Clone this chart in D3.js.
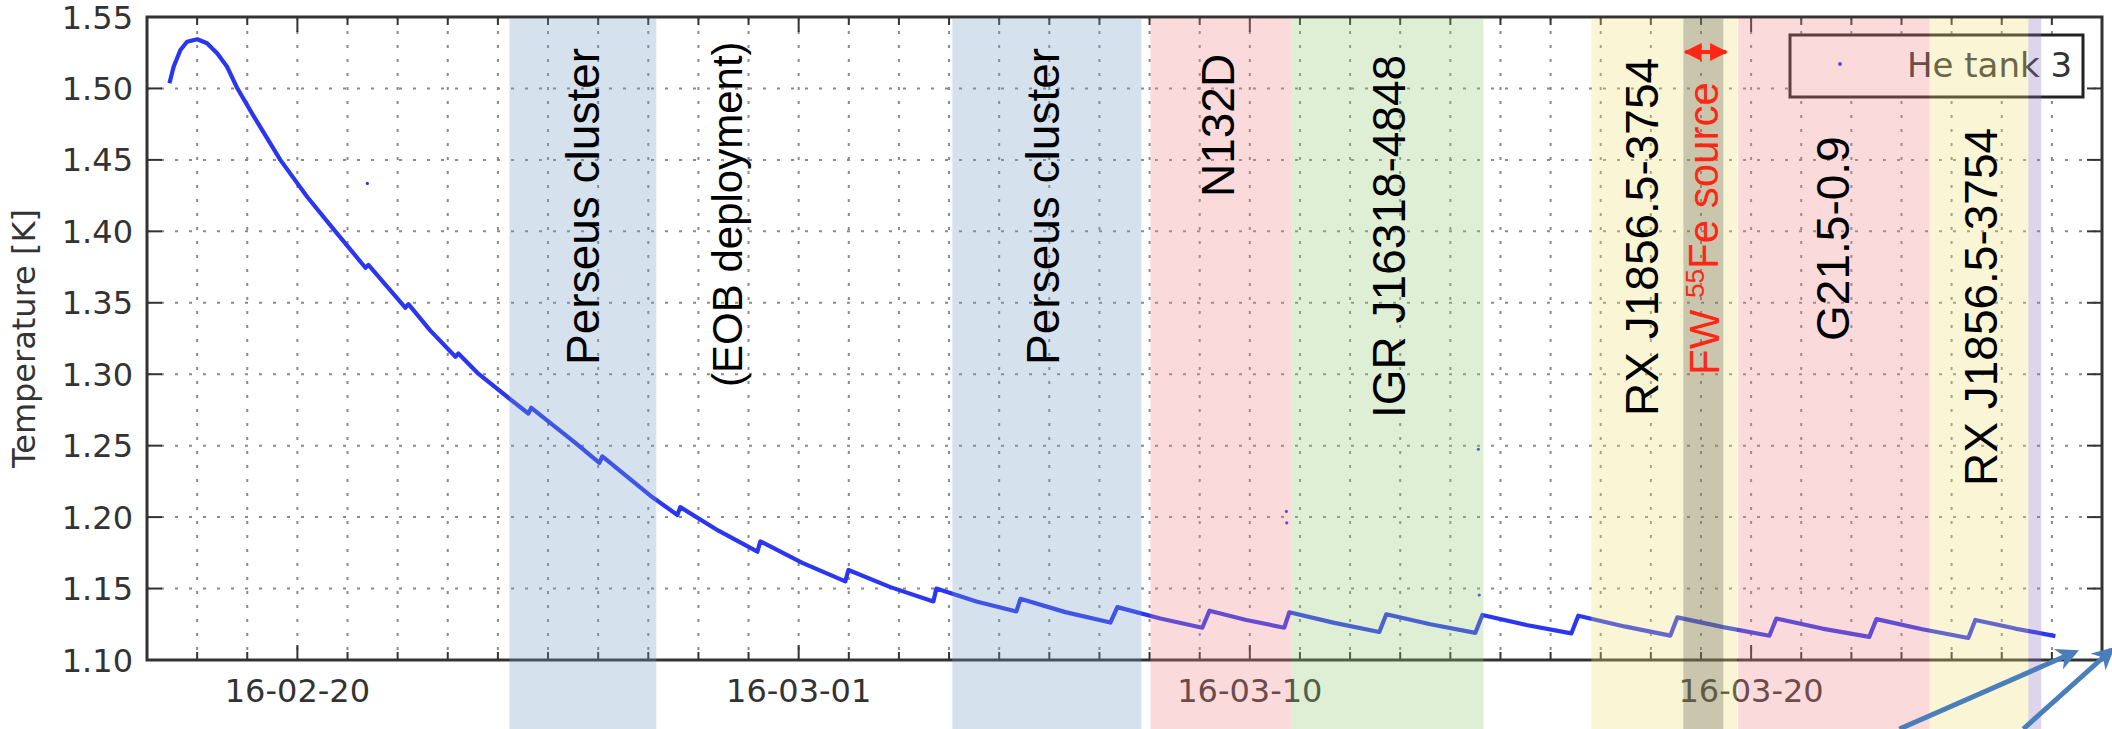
<!DOCTYPE html>
<html lang="en">
<head>
<meta charset="UTF-8">
<title>He tank 3 temperature</title>
<script src="https://d3js.org/d3.v7.min.js"></script>
<style>
  body { margin: 0; background: #fff; }
  svg { display: block; }
  .tick-label { font-family: "DejaVu Sans", sans-serif; font-size: 32px; fill: #333; }
  .band-label { font-family: "Liberation Sans", Arial, sans-serif; }
</style>
</head>
<body>
<script>
// He tank 3 temperature (sawtooth = refills)
const times = [
  "2016-02-17T10:45", "2016-02-17T12:45", "2016-02-17T16:00", "2016-02-17T19:10",
  "2016-02-18T00:05", "2016-02-18T04:45", "2016-02-18T09:35", "2016-02-18T14:20",
  "2016-02-18T19:15", "2016-02-19T02:55",
  "2016-02-19T15:50", "2016-02-20T04:45", "2016-02-20T18:10", "2016-02-21T08:35",
  "2016-02-21T10:00", "2016-02-22T03:45", "2016-02-22T05:10", "2016-02-22T15:40",
  "2016-02-23T03:40", "2016-02-23T05:05", "2016-02-23T14:10", "2016-02-24T05:30",
  "2016-02-24T14:35", "2016-02-24T16:00", "2016-02-25T13:05", "2016-02-26T00:35",
  "2016-02-26T02:00", "2016-02-27T01:00", "2016-02-27T13:55", "2016-02-27T15:20",
  "2016-02-28T09:35", "2016-02-29T04:15", "2016-02-29T05:40", "2016-03-01T01:45",
  "2016-03-01T22:20", "2016-03-01T23:50", "2016-03-02T19:55", "2016-03-03T16:30",
  "2016-03-03T17:55", "2016-03-04T13:05", "2016-03-05T08:15", "2016-03-05T10:10",
  "2016-03-06T07:40", "2016-03-07T05:15", "2016-03-07T08:35", "2016-03-08T05:10",
  "2016-03-09T01:15", "2016-03-09T04:40", "2016-03-09T22:20", "2016-03-10T16:30",
  "2016-03-10T18:55", "2016-03-11T16:30", "2016-03-12T14:00", "2016-03-12T17:20",
  "2016-03-13T14:25", "2016-03-14T12:00", "2016-03-14T15:20", "2016-03-15T12:25",
  "2016-03-16T09:55", "2016-03-16T13:15", "2016-03-17T11:20", "2016-03-18T09:20",
  "2016-03-18T12:40", "2016-03-19T10:40", "2016-03-20T08:45", "2016-03-20T12:05",
  "2016-03-21T10:05", "2016-03-22T08:35", "2016-03-22T12:00", "2016-03-23T10:00",
  "2016-03-24T08:00", "2016-03-24T11:20", "2016-03-25T06:30", "2016-03-26T01:40"
];
const temps = [
  1.5036, 1.5152, 1.5269, 1.5327,
  1.5344, 1.5316, 1.5246, 1.5152,
  1.5001, 1.481,
  1.450, 1.424, 1.400, 1.3745,
  1.3765, 1.3465, 1.349, 1.3305,
  1.3122, 1.3145, 1.301, 1.283,
  1.2725, 1.2765, 1.252, 1.238,
  1.2425, 1.215, 1.2015, 1.207,
  1.1905, 1.1758, 1.183, 1.168,
  1.155, 1.163, 1.151, 1.141,
  1.150, 1.141, 1.134, 1.1428,
  1.1335, 1.1262, 1.137, 1.129,
  1.1226, 1.1345, 1.128, 1.1226,
  1.1334, 1.126, 1.1196, 1.132,
  1.125, 1.119, 1.1315, 1.1245,
  1.1186, 1.131, 1.1235, 1.1171,
  1.1298, 1.123, 1.117, 1.129,
  1.122, 1.1162, 1.1286, 1.1215,
  1.1154, 1.128, 1.122, 1.1167
];

// stray single readings
const strayTimes = ["2016-02-21T09:30", "2016-03-10T17:30", "2016-03-10T17:40", "2016-03-14T13:25", "2016-03-14T13:50"];
const strayTemps = [1.4335, 1.204, 1.196, 1.2475, 1.1455];

// observation periods
const bandKind  = ["perseus", "perseus", "n132d", "igr", "rx", "fw", "g21", "rx", "end"];
const bandStart = ["2016-02-24T05:30", "2016-03-04T01:35", "2016-03-08T00:25", "2016-03-10T19:55",
                   "2016-03-16T19:30", "2016-03-18T15:35", "2016-03-19T17:50", "2016-03-23T13:20",
                   "2016-03-25T12:45"];
const bandEnd   = ["2016-02-27T03:50", "2016-03-07T20:05", "2016-03-10T19:55", "2016-03-14T15:50",
                   "2016-03-19T17:25", "2016-03-19T10:40", "2016-03-23T13:20", "2016-03-25T12:45",
                   "2016-03-25T18:55"];

// annotations (text starts at date/temperature, reads upwards)
const labelText = ["Perseus cluster", "(EOB deployment)", "Perseus cluster", "N132D", "IGR J16318-4848",
                   "RX J1856.5-3754", "FW 55Fe source", "G21.5-0.9", "RX J1856.5-3754"];
const labelDate = ["2016-02-25T16:25", "2016-02-28T13:50", "2016-03-05T20:40", "2016-03-09T08:25",
                   "2016-03-12T18:20", "2016-03-17T19:25", "2016-03-19T01:10", "2016-03-21T14:55",
                   "2016-03-24T13:40"];
const labelTemp = [1.3065, 1.2911, 1.3065, 1.424, 1.2694, 1.2708, 1.2995, 1.3233, 1.2218];

const fwArrowTemp = 1.5255;

// pointer arrows drawn over the figure
const pointerFrom = [["2016-03-22T23:00", 1.0517], ["2016-03-25T10:20", 1.0517]];
const pointerTo   = [["2016-03-26T11:00", 1.1056], ["2016-03-27T04:30", 1.107]];

const xDomain = ["2016-02-17T00:00", "2016-03-27T00:00"];
const xTickLabels = ["2016-02-20", "2016-03-01", "2016-03-10", "2016-03-20"];
const yTicks = [1.10, 1.15, 1.20, 1.25, 1.30, 1.35, 1.40, 1.45, 1.50, 1.55];
const legendLabel = "He tank 3";

const parse = d3.utcParse("%Y-%m-%dT%H:%M");
const parseDay = d3.utcParse("%Y-%m-%d");

class TankChart {
    constructor() {
        this.width = 2112;
        this.height = 729;
        this.margin = {top: 17, right: 10, bottom: 69, left: 147};
        this.chart = {
            width: this.width - this.margin.left - this.margin.right,
            height: this.height - this.margin.top - this.margin.bottom
        };

        this.bandStyle = {
            perseus: {fill: "#739ec6", opacity: 0.3},
            n132d:   {fill: "#ee8484", opacity: 0.3},
            igr:     {fill: "#95ca76", opacity: 0.3},
            rx:      {fill: "#eede70", opacity: 0.3},
            fw:      {fill: "#3c3c3c", opacity: 0.25},
            g21:     {fill: "#ee8484", opacity: 0.3},
            end:     {fill: "#8a73bc", opacity: 0.3}
        };

        this.$svg = d3.select("body").append("svg")
            .attr("width", this.width)
            .attr("height", this.height);

        const defs = this.$svg.append("defs");
        defs.append("marker")
            .attr("id", "redhead")
            .attr("viewBox", "0 0 10 10")
            .attr("refX", 9).attr("refY", 5)
            .attr("markerWidth", 4.5).attr("markerHeight", 5)
            .attr("orient", "auto-start-reverse")
            .append("path").attr("d", "M0,0L10,5L0,10z").attr("fill", "#ff2614");
        defs.append("marker")
            .attr("id", "bluehead")
            .attr("viewBox", "0 0 10 10")
            .attr("refX", 8).attr("refY", 5)
            .attr("markerWidth", 4.5).attr("markerHeight", 4.5)
            .attr("markerUnits", "strokeWidth")
            .attr("orient", "auto")
            .append("path").attr("d", "M0,0L10,5L0,10L3,5z").attr("fill", "#4a7ebb");

        this.$g = this.$svg.append("g")
            .attr("transform", `translate(${this.margin.left},${this.margin.top})`);

        this.data = times.map((t, i) => ({date: parse(t), value: temps[i]}));
    }

    plot() {
        let self = this;
        this.x = d3.scaleUtc()
            .domain(xDomain.map(parse))
            .range([0, this.chart.width]);
        this.y = d3.scaleLinear()
            .domain([1.10, 1.55])
            .range([this.chart.height, 0]);

        this.line = d3.line()
            .x(d => self.x(d.date))
            .y(d => self.y(d.value));

        this.plotGrid();
        this.plotGraph();
        this.plotAxis();
        this.plotLegend();
        this.plotBands();
        this.plotArrows();
    }

    plotGrid() {
        const days = d3.utcDay.range(this.x.domain()[0], this.x.domain()[1]).slice(1);
        this.days = days;
        const grid = this.$g.append("g").attr("stroke", "#8a8a8a").attr("stroke-width", 2)
            .attr("stroke-dasharray", "3,11");
        grid.selectAll(".vgrid").data(days).enter().append("line")
            .attr("x1", d => this.x(d)).attr("x2", d => this.x(d))
            .attr("y1", 0).attr("y2", this.chart.height);
        grid.selectAll(".hgrid").data(yTicks.slice(1, -1)).enter().append("line")
            .attr("x1", 0).attr("x2", this.chart.width)
            .attr("y1", d => this.y(d)).attr("y2", d => this.y(d));
    }

    plotGraph() {
        this.$g.append("path")
            .datum(this.data)
            .attr("fill", "none")
            .attr("stroke", "#2a36f2")
            .attr("stroke-width", 4.2)
            .attr("stroke-linejoin", "round")
            .attr("d", this.line);

        this.$g.selectAll(".stray")
            .data(strayTimes.map((t, i) => ({date: parse(t), value: strayTemps[i]})))
            .enter().append("circle")
            .attr("r", 1.6)
            .attr("fill", "#2a36f2")
            .attr("cx", d => this.x(d.date))
            .attr("cy", d => this.y(d.value));
    }

    plotAxis() {
        const w = this.chart.width, h = this.chart.height;
        const majors = xTickLabels.map(parseDay);
        const isMajor = d => majors.some(m => +m === +d);
        const ticks = this.$g.append("g").attr("stroke", "#333").attr("stroke-width", 2);

        ticks.selectAll(".xb").data(this.days).enter().append("line")
            .attr("x1", d => this.x(d)).attr("x2", d => this.x(d))
            .attr("y1", h).attr("y2", d => h - (isMajor(d) ? 15 : 8));
        ticks.selectAll(".xt").data(this.days).enter().append("line")
            .attr("x1", d => this.x(d)).attr("x2", d => this.x(d))
            .attr("y1", 0).attr("y2", d => (isMajor(d) ? 15 : 8));
        ticks.selectAll(".yl").data(yTicks).enter().append("line")
            .attr("x1", 0).attr("x2", 15)
            .attr("y1", d => this.y(d)).attr("y2", d => this.y(d));
        ticks.selectAll(".yr").data(yTicks).enter().append("line")
            .attr("x1", w).attr("x2", w - 15)
            .attr("y1", d => this.y(d)).attr("y2", d => this.y(d));

        this.$g.append("rect")
            .attr("width", w).attr("height", h)
            .attr("fill", "none").attr("stroke", "#333").attr("stroke-width", 3);

        this.$g.selectAll(".ylab").data(yTicks).enter().append("text")
            .attr("class", "tick-label")
            .attr("x", -14).attr("y", d => this.y(d)).attr("dy", "0.36em")
            .attr("text-anchor", "end")
            .text(d3.format(".2f"));

        this.$g.selectAll(".xlab").data(majors).enter().append("text")
            .attr("class", "tick-label")
            .attr("x", d => this.x(d)).attr("y", h + 30).attr("dy", "0.36em")
            .attr("text-anchor", "middle")
            .text(d3.utcFormat("%y-%m-%d"));

        this.$svg.append("text")
            .attr("class", "tick-label")
            .attr("transform", `translate(23,${this.margin.top + h / 2}) rotate(-90)`)
            .attr("dy", "0.36em")
            .attr("text-anchor", "middle")
            .text("Temperature [K]");
    }

    plotLegend() {
        const lw = 293, lh = 62;
        const lg = this.$g.append("g")
            .attr("transform", `translate(${this.chart.width - 19 - lw},18)`);
        lg.append("rect").attr("width", lw).attr("height", lh)
            .attr("fill", "#fff").attr("stroke", "#222").attr("stroke-width", 3);
        lg.append("circle").attr("cx", 50).attr("cy", 29).attr("r", 2).attr("fill", "#2a36f2");
        lg.append("text")
            .attr("x", 117).attr("y", 42)
            .attr("font-family", "DejaVu Sans, sans-serif")
            .attr("font-size", 34)
            .attr("fill", "#333")
            .text(legendLabel);
    }

    plotBands() {
        let self = this;
        const bands = bandKind.map((k, i) => ({kind: k, start: parse(bandStart[i]), end: parse(bandEnd[i])}));
        this.$g.selectAll(".band").data(bands).enter().append("rect")
            .attr("x", d => self.x(d.start))
            .attr("width", d => self.x(d.end) - self.x(d.start))
            .attr("y", 1.5)
            .attr("height", this.height - this.margin.top)
            .attr("fill", d => self.bandStyle[d.kind].fill)
            .attr("fill-opacity", d => self.bandStyle[d.kind].opacity);

        const labels = labelText.map((t, i) => ({text: t, date: parse(labelDate[i]), value: labelTemp[i]}));
        const lab = this.$g.selectAll(".band-label").data(labels).enter().append("text")
            .attr("class", "band-label")
            .attr("transform", d => `translate(${self.x(d.date)},${self.y(d.value)}) rotate(-90)`)
            .attr("dy", "0.36em")
            .attr("font-size", d => (d.text.startsWith("(") || d.text.startsWith("FW")) ? 42 : 46)
            .style("fill", d => d.text.startsWith("FW") ? "#ff2614" : "#000");

        lab.each(function(d) {
            const el = d3.select(this);
            const m = d.text.match(/^(\S+ )(\d+)(.*)$/);
            if (d.text.startsWith("FW") && m) {
                el.append("tspan").text(m[1]);
                el.append("tspan").attr("font-size", "62%").attr("dy", "-0.55em").text(m[2]);
                el.append("tspan").attr("dy", "0.34em").text(m[3]);
            } else {
                el.text(d.text);
            }
        });
    }

    plotArrows() {
        const fw = bandKind.indexOf("fw");
        const yA = this.y(fwArrowTemp);
        this.$g.append("line")
            .attr("x1", this.x(parse(bandStart[fw])) + 2)
            .attr("x2", this.x(parse(bandEnd[fw])) + 3)
            .attr("y1", yA).attr("y2", yA)
            .attr("stroke", "#ff2614").attr("stroke-width", 4)
            .attr("marker-start", "url(#redhead)")
            .attr("marker-end", "url(#redhead)");

        this.$g.selectAll(".pointer").data(pointerFrom.map((f, i) => [f, pointerTo[i]]))
            .enter().append("line")
            .attr("x1", d => this.x(parse(d[0][0]))).attr("y1", d => this.y(d[0][1]))
            .attr("x2", d => this.x(parse(d[1][0]))).attr("y2", d => this.y(d[1][1]))
            .attr("stroke", "#4a7ebb").attr("stroke-width", 5)
            .attr("marker-end", "url(#bluehead)");
    }
}

let chart = new TankChart();
chart.plot();
</script>
</body>
</html>
